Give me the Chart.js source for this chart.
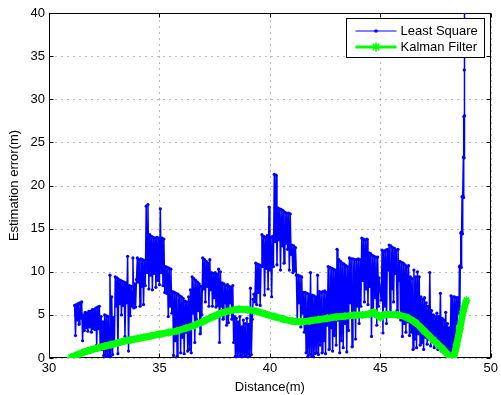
<!DOCTYPE html>
<html>
<head>
<meta charset="utf-8">
<script src="https://cdn.jsdelivr.net/npm/chart.js@4.4.1/dist/chart.umd.min.js"></script>
<style>
  html, body { margin: 0; padding: 0; background: #fff; }
  #wrap { width: 501px; height: 395px; }
</style>
</head>
<body>
<div id="wrap"><canvas id="errChart" width="501" height="395"></canvas></div>
<script>
const xTicks = [30, 35, 40, 45, 50];
const yTicks = [0, 5, 10, 15, 20, 25, 30, 35, 40];

// Least Square estimate
const lsDist = [
  31.16,31.20,31.24,31.28,31.32,31.36,31.40,31.44,31.48,31.52,31.56,31.60,31.64,31.68,31.72,31.76,31.80,31.84,31.88,31.92,
  31.96,32.00,32.04,32.08,32.12,32.16,32.20,32.24,32.28,32.32,32.36,32.40,32.44,32.48,32.52,32.56,32.60,32.64,32.68,32.72,
  32.76,32.80,32.84,32.88,32.92,32.96,33.00,33.04,33.08,33.12,33.16,33.20,33.24,33.28,33.32,33.36,33.40,33.44,33.48,33.52,
  33.56,33.60,33.64,33.68,33.72,33.76,33.80,33.84,33.88,33.92,33.96,34.00,34.04,34.08,34.12,34.16,34.20,34.24,34.28,34.32,
  34.36,34.40,34.44,34.48,34.52,34.56,34.60,34.64,34.68,34.72,34.76,34.80,34.84,34.88,34.92,34.96,35.00,35.04,35.08,35.12,
  35.16,35.20,35.24,35.28,35.32,35.36,35.40,35.44,35.48,35.52,35.56,35.60,35.64,35.68,35.72,35.76,35.80,35.84,35.88,35.92,
  35.96,36.00,36.04,36.08,36.12,36.16,36.20,36.24,36.28,36.32,36.36,36.40,36.44,36.48,36.52,36.56,36.60,36.64,36.68,36.72,
  36.76,36.80,36.84,36.88,36.92,36.96,37.00,37.04,37.08,37.12,37.16,37.20,37.24,37.28,37.32,37.36,37.40,37.44,37.48,37.52,
  37.56,37.60,37.64,37.68,37.72,37.76,37.80,37.84,37.88,37.92,37.96,38.00,38.04,38.08,38.12,38.16,38.20,38.24,38.28,38.32,
  38.36,38.40,38.44,38.48,38.52,38.56,38.60,38.64,38.68,38.72,38.76,38.80,38.84,38.88,38.92,38.96,39.00,39.04,39.08,39.12,
  39.16,39.20,39.24,39.28,39.32,39.36,39.40,39.44,39.48,39.52,39.56,39.60,39.64,39.68,39.72,39.76,39.80,39.84,39.88,39.92,
  39.96,40.00,40.04,40.08,40.12,40.16,40.20,40.24,40.28,40.32,40.36,40.40,40.44,40.48,40.52,40.56,40.60,40.64,40.68,40.72,
  40.76,40.80,40.84,40.88,40.92,40.96,41.00,41.04,41.08,41.12,41.16,41.20,41.24,41.28,41.32,41.36,41.40,41.44,41.48,41.52,
  41.56,41.60,41.64,41.68,41.72,41.76,41.80,41.84,41.88,41.92,41.96,42.00,42.04,42.08,42.12,42.16,42.20,42.24,42.28,42.32,
  42.36,42.40,42.44,42.48,42.52,42.56,42.60,42.64,42.68,42.72,42.76,42.80,42.84,42.88,42.92,42.96,43.00,43.04,43.08,43.12,
  43.16,43.20,43.24,43.28,43.32,43.36,43.40,43.44,43.48,43.52,43.56,43.60,43.64,43.68,43.72,43.76,43.80,43.84,43.88,43.92,
  43.96,44.00,44.04,44.08,44.12,44.16,44.20,44.24,44.28,44.32,44.36,44.40,44.44,44.48,44.52,44.56,44.60,44.64,44.68,44.72,
  44.76,44.80,44.84,44.88,44.92,44.94,45.04,45.08,45.12,45.16,45.20,45.24,45.28,45.32,45.36,45.40,45.44,45.48,45.52,45.56,
  45.60,45.64,45.68,45.72,45.76,45.80,45.84,45.88,45.92,45.96,46.00,46.04,46.08,46.12,46.16,46.20,46.24,46.28,46.32,46.36,
  46.40,46.44,46.48,46.52,46.56,46.60,46.64,46.68,46.72,46.76,46.80,46.84,46.88,46.92,46.96,47.00,47.04,47.08,47.12,47.16,
  47.20,47.24,47.28,47.32,47.36,47.40,47.44,47.48,47.52,47.56,47.60,47.64,47.68,47.72,47.76,47.80,47.84,47.88,47.92,47.96,
  48.00,48.04,48.08,48.12,48.16,48.20,48.24,48.28,48.32,48.36,48.40,48.44,48.48,48.52,48.56,48.58,48.60,48.62,48.64,48.66,
  48.68,48.70,48.72,48.74,48.76,48.77,48.78,48.79,48.80,48.81,48.82
];
const lsErr = [
  6.1,2.6,6.2,4.4,6.3,3.9,6.4,4.6,6.5,2.0,5.0,3.2,5.3,3.5,5.2,3.1,5.4,3.6,5.4,3.0,
  5.6,3.4,5.6,3.3,5.8,1.5,5.9,3.4,6.0,1.2,4.8,1.0,4.2,0.3,5.0,0.1,4.9,0.2,4.8,0.3,
  9.6,0.1,7.1,0.4,4.7,1.5,9.4,6.0,9.3,0.5,9.1,6.3,9.0,5.0,8.9,6.1,8.8,2.5,8.7,6.4,
  11.8,0.8,8.4,4.9,8.3,6.0,11.6,5.8,8.6,5.9,9.1,11.6,8.8,11.4,6.0,11.5,8.3,11.4,6.2,11.3,
  8.4,17.6,9.9,17.8,8.0,14.3,9.6,14.1,7.9,14.0,9.8,13.9,8.2,14.0,9.0,13.9,8.5,17.3,9.9,13.9,
  8.4,13.8,7.6,10.6,7.5,10.5,4.8,10.4,6.0,10.3,5.2,7.7,0.3,7.6,2.0,7.5,0.2,7.4,3.3,7.2,
  0.6,7.1,2.4,6.9,0.5,6.6,3.0,6.5,0.8,7.1,1.0,7.9,0.6,9.4,5.2,9.2,1.8,9.0,4.5,8.8,
  5.5,8.6,2.8,8.3,5.0,11.6,8.0,11.4,6.5,11.2,8.3,11.0,6.0,11.4,7.9,9.9,6.0,9.8,7.0,9.9,
  5.9,9.7,6.1,10.3,1.8,10.0,6.0,8.7,4.5,8.6,6.4,8.4,3.8,8.5,4.1,8.3,6.4,8.2,4.5,8.4,
  1.8,4.8,0.2,4.6,0.1,4.2,0.0,4.8,0.3,3.6,0.1,4.4,0.0,4.0,0.2,4.6,0.5,3.9,0.2,8.1,
  0.4,4.5,6.8,7.4,6.5,11.0,6.2,10.9,7.6,10.8,6.1,10.7,14.3,10.6,14.1,7.3,14.0,10.4,14.2,8.0,
  17.5,10.2,14.0,7.1,14.1,10.6,21.3,13.5,21.2,10.8,17.4,13.7,17.3,10.2,17.2,13.0,17.1,11.0,16.9,13.3,
  16.8,12.6,16.8,10.2,16.7,12.0,13.1,9.9,13.0,10.1,12.8,9.6,4.0,9.6,6.4,9.5,3.6,9.4,5.2,7.6,
  3.0,7.6,0.6,7.5,0.2,7.4,0.4,9.9,0.3,7.3,0.2,7.2,0.5,7.1,0.6,9.6,0.4,7.7,1.5,7.6,
  0.6,7.7,2.0,7.8,0.5,7.6,3.8,10.6,1.0,10.5,3.5,10.4,0.8,10.3,2.6,10.2,1.5,12.6,4.4,11.4,
  0.6,11.2,2.0,11.0,1.2,10.9,4.0,10.7,0.7,10.6,3.2,11.6,6.4,11.5,1.3,11.5,5.0,11.4,2.2,11.4,
  6.0,11.5,4.0,11.4,6.0,13.9,9.0,13.8,6.5,13.7,8.0,13.8,6.2,12.2,8.3,12.1,2.5,11.9,5.0,11.8,
  7.0,11.7,3.8,11.7,6.0,9.3,6.7,12.5,2.9,12.4,6.0,12.5,4.0,12.6,10.2,13.1,5.2,13.0,8.0,12.8,
  6.5,12.7,9.8,12.5,5.5,12.6,9.0,11.2,4.4,11.1,2.5,11.0,4.0,10.8,3.0,10.6,4.2,10.7,2.6,9.4,
  3.0,9.2,1.0,10.2,2.2,9.4,1.2,10.0,2.8,9.4,1.5,7.1,1.8,6.8,1.0,7.0,2.4,6.4,1.6,6.0,
  2.2,9.9,1.4,5.5,2.0,5.0,1.2,4.8,1.8,5.2,1.0,4.8,1.5,7.5,0.8,4.6,1.2,4.4,0.6,5.3,
  0.8,4.0,0.5,3.5,0.4,7.2,0.3,7.1,0.5,7.1,2.0,7.0,4.0,7.0,5.2,10.6,5.3,10.7,14.5,10.5,
  14.6,18.7,14.4,18.8,23.3,18.6,28.0,23.2,33.4,28.1,42.0
];

// Kalman Filter estimate
const kfDist = [
  31.0,31.3,31.6,31.9,32.2,32.5,32.8,33.1,33.4,33.7,34.0,34.3,34.6,35.0,35.4,35.8,36.2,36.6,37.0,37.4,
  37.8,38.2,38.6,39.0,39.4,39.8,40.2,40.6,41.0,41.4,41.8,42.2,42.6,43.0,43.4,43.8,44.2,44.5,44.7,44.85,
  45.0,45.15,45.4,45.8,46.2,46.6,47.0,47.4,47.8,48.1,48.3,48.45,48.6,48.75,48.9
];
const kfErr = [
  0.1,0.4,0.7,0.95,1.15,1.35,1.55,1.75,1.95,2.1,2.25,2.4,2.55,2.75,2.95,3.15,3.45,3.8,4.25,4.75,
  5.2,5.5,5.65,5.6,5.4,5.1,4.8,4.5,4.3,4.2,4.3,4.45,4.6,4.75,4.85,4.95,5.0,5.1,5.3,5.0,
  4.7,5.0,5.05,5.0,4.7,4.1,3.1,2.1,1.1,0.3,0.05,1.5,3.4,5.4,6.7
];

const FONT = "'Liberation Sans', Arial, Helvetica, sans-serif";

function drawStar(ctx, x, y, r) {
  ctx.beginPath();
  for (let a = 0; a < 4; a++) {
    const t = a * Math.PI / 4;
    ctx.moveTo(x - r * Math.cos(t), y - r * Math.sin(t));
    ctx.lineTo(x + r * Math.cos(t), y + r * Math.sin(t));
  }
  ctx.stroke();
}

// dotted grid + axes box with inward ticks, like matlab
const boxPlugin = {
  id: 'box',
  beforeDatasetsDraw(chart) {
    const {ctx, chartArea: a, scales} = chart;
    const L = Math.round(a.left) + 0.5, R = Math.round(a.right) - 0.5;
    const T = Math.round(a.top) + 0.5, B = Math.round(a.bottom) - 0.5;
    ctx.save();
    ctx.strokeStyle = '#777';
    ctx.lineWidth = 1;
    ctx.setLineDash([1, 5]);
    ctx.beginPath();
    xTicks.forEach(v => {
      const px = Math.round(scales.x.getPixelForValue(v)) + 0.5;
      ctx.moveTo(px, B); ctx.lineTo(px, T);
    });
    yTicks.forEach(v => {
      const py = Math.round(scales.y.getPixelForValue(v)) + 0.5;
      ctx.moveTo(L, py); ctx.lineTo(R, py);
    });
    ctx.stroke();
    ctx.setLineDash([]);
    ctx.strokeStyle = '#000';
    ctx.strokeRect(L, T, R - L, B - T);
    ctx.beginPath();
    xTicks.forEach(v => {
      const px = Math.round(scales.x.getPixelForValue(v)) + 0.5;
      ctx.moveTo(px, B); ctx.lineTo(px, B - 4);
      ctx.moveTo(px, T); ctx.lineTo(px, T + 4);
    });
    yTicks.forEach(v => {
      const py = Math.round(scales.y.getPixelForValue(v)) + 0.5;
      ctx.moveTo(L, py); ctx.lineTo(L + 4, py);
      ctx.moveTo(R, py); ctx.lineTo(R - 4, py);
    });
    ctx.stroke();
    ctx.restore();
  }
};

const legendPlugin = {
  id: 'boxLegend',
  afterDraw(chart) {
    const {ctx, chartArea: a} = chart;
    const w = 138, h = 39;
    const x0 = Math.round(a.right) - 7 - w + 0.5, y0 = Math.round(a.top) + 5 + 0.5;
    ctx.save();
    ctx.fillStyle = '#fff';
    ctx.fillRect(x0, y0, w, h);
    ctx.strokeStyle = '#000';
    ctx.lineWidth = 1;
    ctx.strokeRect(x0, y0, w, h);
    ctx.font = '13px ' + FONT;
    ctx.textBaseline = 'middle';
    ctx.fillStyle = '#000';
    chart.data.datasets.forEach((ds, i) => {
      const cy = y0 + 12.5 + i * 16;
      const lx1 = x0 + 9, lx2 = x0 + 50, mx = (lx1 + lx2) / 2;
      ctx.strokeStyle = ds.borderColor;
      ctx.lineWidth = i === 0 ? 1 : 3;
      ctx.beginPath(); ctx.moveTo(lx1, cy); ctx.lineTo(lx2, cy); ctx.stroke();
      if (i === 0) {
        ctx.fillStyle = ds.borderColor;
        ctx.beginPath(); ctx.arc(mx, cy, 1.8, 0, Math.PI * 2); ctx.fill();
      } else {
        ctx.lineWidth = 1.5;
        drawStar(ctx, mx, cy, 4.5);
      }
      ctx.fillStyle = '#000';
      ctx.fillText(ds.label, x0 + 54, cy + 0.5);
    });
    ctx.restore();
  }
};

new Chart(document.getElementById('errChart'), {
  type: 'line',
  data: {
    datasets: [{
      label: 'Least Square',
      data: lsDist.map((d, i) => ({x: d, y: lsErr[i]})),
      borderColor: '#0000ff',
      backgroundColor: '#0000ff',
      borderWidth: 1.5,
      pointRadius: 1.6,
      pointBorderWidth: 0,
      pointBackgroundColor: '#0000ff',
      tension: 0,
      order: 1
    }, {
      label: 'Kalman Filter',
      data: kfDist.map((d, i) => ({x: d, y: kfErr[i]})),
      borderColor: '#00ff00',
      backgroundColor: '#00ff00',
      borderWidth: 7,
      pointStyle: 'star',
      pointRadius: 4,
      pointBorderWidth: 1.5,
      pointBorderColor: '#00ff00',
      tension: 0.3,
      order: 0
    }]
  },
  options: {
    responsive: false,
    animation: false,
    events: [],
    layout: { padding: { top: 13, right: 7, left: 0, bottom: 0 } },
    plugins: { legend: { display: false }, tooltip: { enabled: false } },
    scales: {
      x: {
        type: 'linear', min: 30, max: 50,
        afterBuildTicks: s => { s.ticks = xTicks.map(v => ({value: v})); },
        afterFit: s => { s.height = 37; },
        grid: { display: false, drawTicks: false },
        border: { display: false },
        ticks: { color: '#000', padding: 3, font: { family: FONT, size: 13 } },
        title: { display: true, text: 'Distance(m)', color: '#000', padding: 0, font: { family: FONT, size: 13 } }
      },
      y: {
        type: 'linear', min: 0, max: 40,
        afterBuildTicks: s => { s.ticks = yTicks.map(v => ({value: v})); },
        afterFit: s => { s.width = 49; },
        grid: { display: false, drawTicks: false },
        border: { display: false },
        ticks: { color: '#000', padding: 4, font: { family: FONT, size: 13 } },
        title: { display: true, text: 'Estimation error(m)', color: '#000', padding: { top: 7, bottom: 0 }, font: { family: FONT, size: 13 } }
      }
    }
  },
  plugins: [boxPlugin, legendPlugin]
});
</script>
</body>
</html>
